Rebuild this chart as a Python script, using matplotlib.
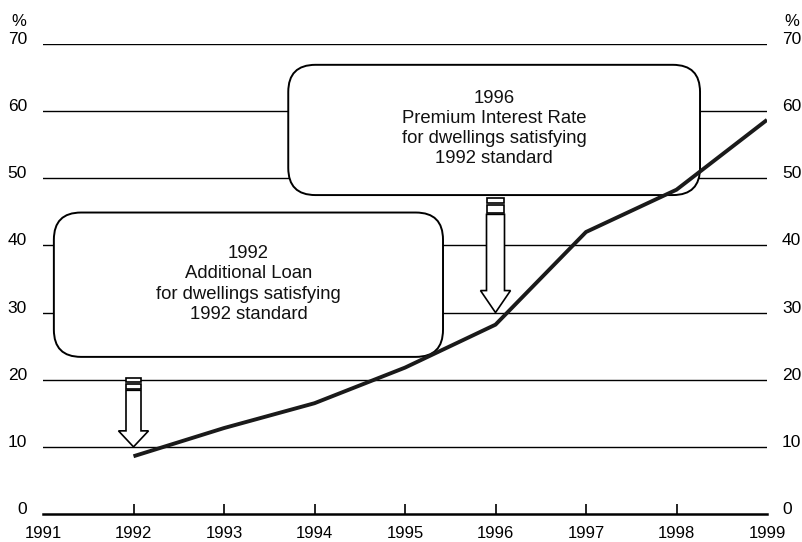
import matplotlib
matplotlib.use("Agg")
import matplotlib.pyplot as plt
from matplotlib.patches import FancyBboxPatch, Polygon, Rectangle

plt.rcParams['font.family'] = ['Liberation Sans', 'DejaVu Sans']

years = [1992, 1993, 1994, 1995, 1996, 1997, 1998, 1999]
share = [8.6, 12.8, 16.5, 21.8, 28.2, 42.0, 48.3, 58.7]
year_ticks = list(range(1991, 2000))
value_ticks = [0, 10, 20, 30, 40, 50, 60, 70]

box_texts = [
    "1992\nAdditional Loan\nfor dwellings satisfying\n1992 standard",
    "1996\nPremium Interest Rate\nfor dwellings satisfying\n1992 standard",
]
# (x0, x1, y0, y1) of each callout box in data units
box_extents = [(1991.12, 1995.42, 23.4, 44.9), (1993.71, 1998.26, 47.5, 66.9)]
# vertical centre of the text inside each box
box_text_y = [34.25, 57.4]
# arrows: (year, tip value, top value)
arrows = [(1992, 10, 20.3), (1996, 30, 47.1)]
# arrow shapes in pixels: shaft half width, head half width, head height,
# top block, second block
arrow_px = [(7.5, 15, 16, 4, 5), (9, 15, 22, 5, 8)]

W, H = 803, 542
fig = plt.figure(figsize=(W / 100, H / 100), dpi=100)
ax = fig.add_axes([43 / W, 1 - 514 / H, (767 - 43) / W, (514 - 44) / H])
ax.set_xlim(1991, 1999)
ax.set_ylim(0, 70)

for s in ['top', 'right', 'left']:
    ax.spines[s].set_visible(False)
ax.spines['bottom'].set_linewidth(1.8)

for v in value_ticks[1:]:
    ax.axhline(v, color='black', lw=1.0, zorder=1)

ax.set_xticks(year_ticks)
ax.set_xticklabels([str(y) for y in year_ticks], fontsize=12)
ax.tick_params(axis='x', direction='in', length=7.5, width=1.2, pad=9)
for t in ax.xaxis.get_major_ticks():
    if t.get_loc() in (1991, 1999):
        t.tick1line.set_visible(False)

ax.set_yticks([])
for v in value_ticks:
    ax.annotate(str(v), xy=(0, v), xycoords=('axes fraction', 'data'),
                xytext=(-16, 0), textcoords='offset pixels',
                ha='right', va='baseline', fontsize=12.5)
    ax.annotate(str(v), xy=(1, v), xycoords=('axes fraction', 'data'),
                xytext=(15, 0), textcoords='offset pixels',
                ha='left', va='baseline', fontsize=12.5)
ax.annotate('%', xy=(0, 70), xycoords=('axes fraction', 'data'),
            xytext=(-17, 18), textcoords='offset pixels',
            ha='right', va='baseline', fontsize=12)
ax.annotate('%', xy=(1, 70), xycoords=('axes fraction', 'data'),
            xytext=(17, 18), textcoords='offset pixels',
            ha='left', va='baseline', fontsize=12)

# pixel-to-data scale factors
px_x = (1999 - 1991) / (767 - 43)
px_y = 70 / (514 - 44)

# callout boxes
for (x0, x1, y0, y1), ty, txt in zip(box_extents, box_text_y, box_texts):
    box = FancyBboxPatch((x0, y0), x1 - x0, y1 - y0,
                         boxstyle="round,pad=0,rounding_size=0.3",
                         mutation_aspect=px_y / px_x,
                         facecolor='white', edgecolor='black', lw=1.4, zorder=3)
    ax.add_patch(box)
    ax.text((x0 + x1) / 2, ty, txt, ha='center', va='center',
            fontsize=13.3, linespacing=1.25, zorder=4, color='#111111')

# hollow arrows
for (xc, tip, top), (s_px, h_px, hh_px, b1_px, b2_px) in zip(arrows, arrow_px):
    sw = s_px * px_x
    hw = h_px * px_x
    hh = hh_px * px_y
    seg1 = b1_px * px_y
    gap = 1.8 * px_y
    seg2 = b2_px * px_y
    shaft_top = top - seg1 - gap - seg2 - gap
    poly = Polygon([(xc - sw, shaft_top), (xc + sw, shaft_top),
                    (xc + sw, tip + hh), (xc + hw, tip + hh), (xc, tip),
                    (xc - hw, tip + hh), (xc - sw, tip + hh)],
                   closed=True, facecolor='white', edgecolor='black', lw=1.2, zorder=5)
    ax.add_patch(poly)
    ax.add_patch(Rectangle((xc - sw, top - seg1), 2 * sw, seg1,
                           facecolor='white', edgecolor='black', lw=1.2, zorder=5))
    ax.add_patch(Rectangle((xc - sw, top - seg1 - gap - seg2), 2 * sw, seg2,
                           facecolor='white', edgecolor='black', lw=1.2, zorder=5))

ax.plot(years, share, color='#1a1a1a', lw=2.8, zorder=6, solid_capstyle='butt')

fig.savefig('out.png', dpi=100)
